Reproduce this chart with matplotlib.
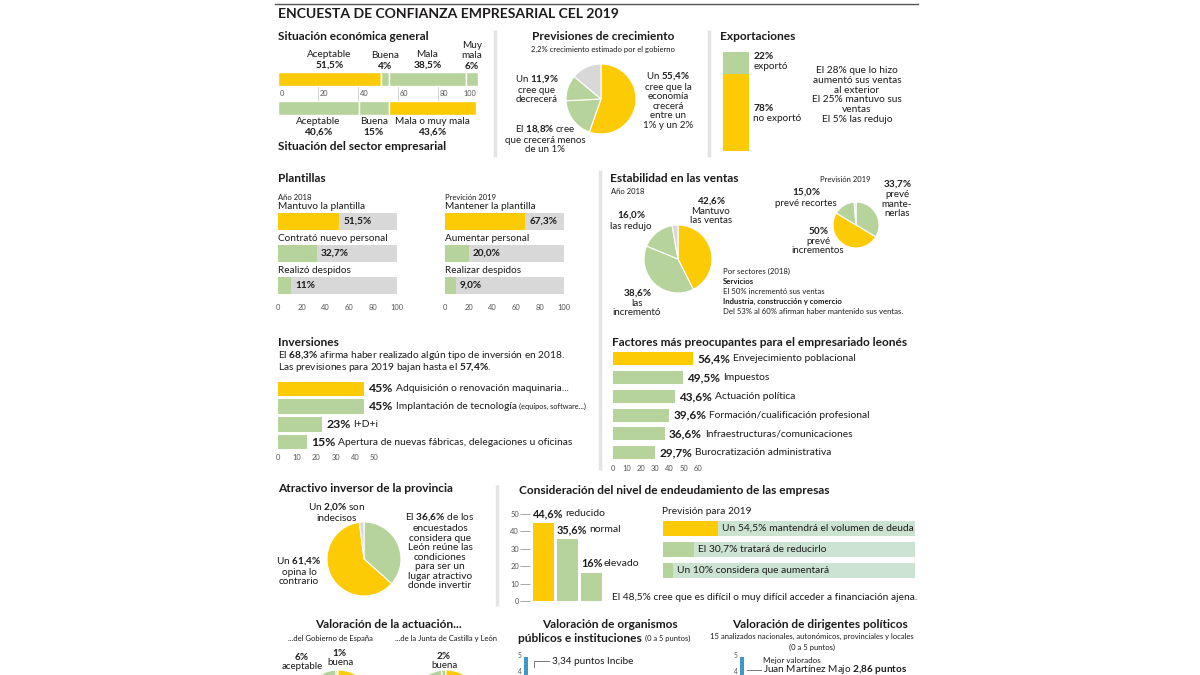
import matplotlib
matplotlib.use('Agg')
import matplotlib.pyplot as plt

plt.rcParams['font.family'] = ['Lato', 'DejaVu Sans']
plt.rcParams['mathtext.fontset'] = 'custom'
plt.rcParams['mathtext.rm'] = 'Lato'
plt.rcParams['mathtext.it'] = 'Lato:italic'
plt.rcParams['mathtext.bf'] = 'Lato:bold'

YEL = '#fccb05'
GRN = '#b7d39c'
GRY = '#d8d8d8'
PALE = '#cde3d2'
BLUE = '#3f98c8'
INK = '#1c1a1b'
SEP = '#e4e4e4'

# ---- data
eco_labels = ['Aceptable', 'Buena', 'Mala', 'Muy\nmala']
eco_vals = [51.5, 4, 38.5, 6]
sec_labels = ['Aceptable', 'Buena', 'Mala o muy mala']
sec_vals = [40.6, 15, 43.6]

# crecerá 1-2%, menos de 1%, decrecerá, resto
crec_vals = [55.4, 18.8, 11.9, 13.9]

exp_labels = ['exportó', 'no exportó']
exp_vals = [22, 78]

pl18_labels = ['Mantuvo la plantilla', 'Contrató nuevo personal', 'Realizó despidos']
pl18_vals = [51.5, 32.7, 11]
pl19_labels = ['Mantener la plantilla', 'Aumentar personal', 'Realizar despidos']
pl19_vals = [67.3, 20.0, 9.0]

est18_labels = ['Mantuvo\nlas ventas', 'las\nincrementó', 'las redujo']
est18_vals = [42.6, 38.6, 16.0, 2.8]
est19_labels = ['prevé\nmante-\nnerlas', 'prevé\nincrementos', 'prevé recortes']
est19_vals = [33.7, 50, 15.0, 1.3]

inv_labels = ['Adquisición o renovación maquinaria...', 'Implantación de tecnología',
              'I+D+i', 'Apertura de nuevas fábricas, delegaciones u oficinas']
inv_vals = [45, 45, 23, 15]

fac_labels = ['Envejecimiento poblacional', 'Impuestos', 'Actuación política',
              'Formación/cualificación profesional', 'Infraestructuras/comunicaciones',
              'Burocratización administrativa']
fac_vals = [56.4, 49.5, 43.6, 39.6, 36.6, 29.7]

# favorable, contrario, indecisos
atr_vals = [36.6, 61.4, 2.0]

deuda_labels = ['reducido', 'normal', 'elevado']
deuda_vals = [44.6, 35.6, 16]
prev_pre = ['Un', 'El', 'Un']
prev_texts = ['mantendrá el volumen de deuda', 'tratará de reducirlo', 'considera que aumentará']
prev_vals = [54.5, 30.7, 10]

# buena, aceptable, resto
gob_vals = [1, 6, 93]
junta_vals = [2, 12, 86]


def fmt(v, d=None):
    s = ('%g' % v) if d is None else ('%.*f' % (d, v))
    return s.replace('.', ',') + '%'


def bf(s):
    s = s.replace(',', '{,}').replace('%', r'\%').replace(' ', r'\ ')
    return r'$\mathbf{' + s + '}$'


W, H = 1200, 675
fig = plt.figure(figsize=(12, 6.75), dpi=100)


def box(x0, y0, x1, y1):
    ax = fig.add_axes([x0 / W, 1 - y1 / H, (x1 - x0) / W, (y1 - y0) / H])
    ax.patch.set_alpha(0)
    return ax


lay = fig.add_axes([0, 0, 1, 1], zorder=10)
lay.set_xlim(0, W)
lay.set_ylim(H, 0)
lay.axis('off')

TS = 8.6   # section titles


def txt(x, y, s, size=7.2, bold=False, ha='left', va='center', color=INK, ls=1.2):
    return lay.text(x, y, s, fontsize=size, fontweight='bold' if bold else 'normal',
                    ha=ha, va=va, color=color, linespacing=ls)


def vline(x, y0, y1):
    lay.plot([x, x], [y0, y1], color=SEP, lw=2.5, solid_capstyle='butt')


def pie(cx, cy, r, vals, cols, ccw=False):
    ax = box(cx - r, cy - r, cx + r, cy + r)
    ax.pie(vals, colors=cols, startangle=90, counterclock=ccw,
           wedgeprops=dict(edgecolor='white', linewidth=0.8))
    ax.set_xlim(-1, 1)
    ax.set_ylim(-1, 1)
    return ax


def xscale(ax, ticks, size=5.4):
    ax.set_xticks(ticks)
    ax.tick_params(axis='x', length=0, labelsize=size, labelcolor='#555555', pad=2)
    ax.set_yticks([])
    for s in ax.spines.values():
        s.set_visible(False)


def chain(prev, s, size, gap=2, bold=False):
    return prev.axes.annotate(s, xy=(1, 0.5), xycoords=prev, xytext=(gap, 0),
                              textcoords='offset points', va='center', ha='left',
                              fontsize=size, color=INK,
                              fontweight='bold' if bold else 'normal')


# ---- frame
lay.plot([275, 918], [4, 4], color='#555555', lw=1)
txt(278, 14, 'ENCUESTA DE CONFIANZA EMPRESARIAL CEL 2019', size=10.1, bold=True)
vline(495, 30, 157)
vline(709, 30, 157)
vline(600, 170, 470)
vline(497, 485, 606)

# ---- Situación económica general / sector empresarial
txt(278, 37, 'Situación económica general', size=TS, bold=True)
ax = box(278, 70, 478, 117)
ax.set_xlim(0, 100)
ax.set_ylim(47, 0)
ax.axis('off')
left = 0
for lab, v, c in zip(eco_labels, eco_vals, [YEL, GRN, GRN, GRN]):
    ax.barh(9, v, left=left, height=14, color=c, edgecolor='white', linewidth=1)
    ax.text(left + v / 2, 1, lab + '\n' + bf(fmt(v)), ha='center', va='bottom',
            fontsize=7.2, color=INK, linespacing=1.05, clip_on=False)
    left += v
left = 0
for lab, v, c in zip(sec_labels, sec_vals, [GRN, GRN, YEL]):
    ax.barh(38, v, left=left, height=14, color=c, edgecolor='white', linewidth=1)
    ax.text(left + v / 2, 47, lab + '\n' + bf(fmt(v)), ha='center', va='top',
            fontsize=7.2, color=INK, linespacing=1.05, clip_on=False)
    left += v
for t in range(0, 101, 20):
    if 0 < t < 100:
        ax.plot([t, t], [17, 30], color='#cccccc', lw=0.6)
    ax.text(t + 1 if t < 100 else t - 1, 24, str(t), ha='left' if t < 100 else 'right',
            va='center', fontsize=5.3, color='#555555')
txt(278, 147, 'Situación del sector empresarial', size=TS, bold=True)

# ---- Previsiones de crecimiento
txt(603, 37, 'Previsiones de crecimiento', size=TS, bold=True, ha='center')
txt(603, 49, '2,2% crecimiento estimado por el gobierno', size=5.5, ha='center')
pie(601, 99, 35, crec_vals, [YEL, GRN, GRN, GRY])
txt(668, 100, 'Un ' + bf(fmt(crec_vals[0])) + '\ncree que la\neconomía\ncrecerá\nentre un\n1% y un 2%',
    ha='center', size=7, ls=1.08)
txt(537, 89, 'Un ' + bf(fmt(crec_vals[2])) + '\ncree que\ndecrecerá', ha='center', size=7, ls=1.08)
txt(545, 139, 'El ' + bf(fmt(crec_vals[1])) + ' cree\nque crecerá menos\nde un 1%', ha='center',
    size=7, ls=1.08)

# ---- Exportaciones
txt(720, 37, 'Exportaciones', size=TS, bold=True)
ax = box(723, 52, 749, 151)
ax.bar(0, exp_vals[1], width=1, color=YEL)
ax.bar(0, exp_vals[0], bottom=exp_vals[1], width=1, color=GRN)
ax.set_xlim(-0.5, 0.5)
ax.set_ylim(0, 100)
ax.axis('off')
ax.annotate(bf(fmt(exp_vals[0])) + '\n' + exp_labels[0], (0.5, exp_vals[1] + exp_vals[0] * 0.6),
            xytext=(3, 0), textcoords='offset points', va='center', fontsize=7.2, color=INK,
            linespacing=1.08)
ax.annotate(bf(fmt(exp_vals[1])) + '\n' + exp_labels[1], (0.5, exp_vals[1] * 0.5),
            xytext=(3, 0), textcoords='offset points', va='center', fontsize=7.2, color=INK,
            linespacing=1.08)
txt(857, 95, 'El 28% que lo hizo\naumentó sus ventas\nal exterior\nEl 25% mantuvo sus\nventas\nEl 5% las redujo',
    ha='center', size=7.3, ls=1.13)

# ---- Plantillas
txt(278, 179, 'Plantillas', size=TS, bold=True)


def plantilla(x0, sub, labels, vals, cols, d):
    txt(x0, 197, sub, size=5.5)
    ax = box(x0, 205.5, x0 + 119, 301.5)
    rows = range(len(vals))
    ax.barh(rows, [100] * len(vals), height=0.53, color=GRY)
    ax.barh(rows, vals, height=0.53, color=cols)
    ax.set_xlim(0, 100)
    ax.set_ylim(2.5, -0.5)
    for i, (lab, v) in enumerate(zip(labels, vals)):
        ax.text(0, i - 0.47, lab, va='center', fontsize=7.2, color=INK)
        ax.text(v + 3.5, i, fmt(v, d), va='center', fontsize=7.2, fontweight='bold', color=INK)
    xscale(ax, range(0, 101, 20))


plantilla(278, 'Año 2018', pl18_labels, pl18_vals, [YEL, GRN, GRN], None)
plantilla(445, 'Previción 2019', pl19_labels, pl19_vals, [YEL, GRN, GRN], 1)

# ---- Estabilidad en las ventas
txt(610, 179, 'Estabilidad en las ventas', size=TS, bold=True)
txt(611, 191, 'Año 2018', size=5.5)
pie(678, 259, 34, est18_vals, [YEL, GRN, GRN, GRY])
for (x, y), lab, v in zip([(711, 210), (637, 302), (631, 220)], est18_labels, est18_vals):
    txt(x, y, bf(fmt(v, 1)) + '\n' + lab, ha='center', size=7, ls=1.05)
txt(845, 179, 'Previsión 2019', size=5.5, ha='center')
pie(856, 225, 23, est19_vals, [GRN, YEL, GRN, GRY])
for (x, y), lab, v, d in zip([(897, 198), (818, 240), (806, 197)], est19_labels, est19_vals,
                             [1, None, 1]):
    txt(x, y, bf(fmt(v, d)) + '\n' + lab, ha='center', size=7, ls=1.05)
txt(723, 271, 'Por sectores (2018)', size=5.6)
txt(723, 281, 'Servicios', size=5.6, bold=True)
txt(723, 291, 'El 50% incrementó sus ventas', size=5.6)
txt(723, 301, 'Industria, construcción y comercio', size=5.6, bold=True)
txt(723, 311, 'Del 53% al 60% afirman haber mantenido sus ventas.', size=5.6)

# ---- Inversiones
txt(278, 342, 'Inversiones', size=TS, bold=True)
txt(278, 355, 'El ' + bf('68,3%') + ' afirma haber realizado algún tipo de inversión en 2018.', size=7.3)
txt(278, 368, 'Las previsiones para 2019 bajan hasta el ' + bf('57,4%') + '.', size=7.3)
ax = box(278, 380, 374, 451)
ax.barh(range(4), inv_vals, height=0.82, color=[YEL, GRN, GRN, GRN])
ax.set_xlim(0, 50)
ax.set_ylim(3.5, -0.5)
xscale(ax, range(0, 51, 10))
for i, (lab, v) in enumerate(zip(inv_labels, inv_vals)):
    t = ax.annotate(fmt(v), (v, i), xytext=(3, 0), textcoords='offset points', va='center',
                    fontsize=8.8, fontweight='bold', color=INK)
    t = chain(t, lab, 7.4)
    if i == 1:
        chain(t, '(equipos, software...)', 5.3)

# ---- Factores
txt(612, 342, 'Factores más preocupantes para el empresariado leonés', size=TS, bold=True)
ax = box(613, 349.6, 698, 461.8)
ax.barh(range(6), fac_vals, height=0.7, color=[YEL] + [GRN] * 5)
ax.set_xlim(0, 60)
ax.set_ylim(5.5, -0.5)
xscale(ax, range(0, 61, 10))
for i, (lab, v) in enumerate(zip(fac_labels, fac_vals)):
    t = ax.annotate(fmt(v), (v, i), xytext=(3, 0), textcoords='offset points', va='center',
                    fontsize=8.5, fontweight='bold', color=INK)
    chain(t, lab, 7.4)

# ---- Atractivo inversor
txt(278, 489, 'Atractivo inversor de la provincia', size=TS, bold=True)
pie(364, 559, 37, atr_vals, [GRN, YEL, GRY])
txt(337, 512, 'Un ' + bf(fmt(atr_vals[2], 1)) + ' son\nindecisos', ha='center', size=7.2, ls=1.08)
txt(299, 571, 'Un ' + bf(fmt(atr_vals[1])) + '\nopina lo\ncontrario', ha='center', size=7.2, ls=1.08)
txt(440, 551, 'El ' + bf(fmt(atr_vals[0])) + ' de los\nencuestados\nconsidera que\nLeón reúne las\n'
    'condiciones\npara ser un\nlugar atractivo\ndonde invertir', ha='center', size=7.3, ls=1.08)

# ---- Endeudamiento
txt(519, 490, 'Consideración del nivel de endeudamiento de las empresas', size=TS, bold=True)
ax = box(530, 514, 605, 601)
ax.bar(range(3), deuda_vals, width=0.875, color=[YEL, GRN, GRN])
ax.set_xlim(-0.5625, 2.5625)
ax.set_ylim(0, 50)
ax.set_xticks([])
ax.set_yticks(range(0, 51, 10))
ax.tick_params(axis='y', length=7, width=0.6, color='#999999', labelsize=5.4,
               labelcolor='#555555', pad=1)
for s in ax.spines.values():
    s.set_visible(False)
for i, (lab, v) in enumerate(zip(deuda_labels, deuda_vals)):
    t = ax.annotate(fmt(v), (i - 0.4375, v), xytext=(0, 3), textcoords='offset points',
                    va='bottom', fontsize=7.8, fontweight='bold', color=INK)
    chain(t, lab, 7.5, gap=1)
txt(612, 598, 'El 48,5% cree que es difícil o muy difícil acceder a financiación ajena.', size=7.3)
txt(662, 511, 'Previsión para 2019', size=7.3)
ax = box(663, 518, 915, 581)
ax.barh(range(3), [252] * 3, height=0.71, color=PALE)
ax.barh(range(3), prev_vals, height=0.71, color=[YEL, GRN, GRN])
ax.set_xlim(0, 252)
ax.set_ylim(2.5, -0.5)
ax.axis('off')
for i, (p, v, s) in enumerate(zip(prev_pre, prev_vals, prev_texts)):
    ax.annotate('%s %s %s' % (p, fmt(v), s), (v, i), xytext=(3, 0), textcoords='offset points',
                va='center', fontsize=7.4, color=INK)

# ---- Valoración de la actuación
txt(388, 624, 'Valoración de la actuación...', size=TS, bold=True, ha='center')
txt(330, 638, '...del Gobierno de España', size=5.5, ha='center')
txt(446, 638, '...de la Junta de Castilla y León', size=5.5, ha='center')
pie(338, 707, 37, gob_vals, [GRN, GRN, YEL], ccw=True)
pie(446, 707, 37, junta_vals, [GRN, GRN, YEL], ccw=True)
txt(302, 661, bf(fmt(gob_vals[1])) + '\naceptable', ha='center', size=7, ls=1.0)
txt(340, 657, bf(fmt(gob_vals[0])) + '\nbuena', ha='center', size=7, ls=1.0)
txt(444, 660, bf(fmt(junta_vals[0])) + '\nbuena', ha='center', size=7, ls=1.0)

# ---- Valoración de organismos
txt(610, 625, 'Valoración de organismos', size=TS, bold=True, ha='center')
txt(642, 638, 'públicos e instituciones', size=TS, bold=True, ha='right')
txt(645, 638, '(0 a 5 puntos)', size=5.4)

# ---- Valoración de dirigentes
txt(820, 624, 'Valoración de dirigentes políticos', size=TS, bold=True, ha='center')
txt(812, 636, '15 analizados nacionales, autonómicos, provinciales y locales', size=5.5, ha='center')
txt(812, 647, '(0 a 5 puntos)', size=5.5, ha='center')

for x0 in [524, 740]:
    ax = box(x0, 657, x0 + 4, 737)
    ax.bar(0, 5, width=1, color=BLUE)
    ax.set_xlim(-0.5, 0.5)
    ax.set_ylim(0, 5)
    ax.axis('off')
    for v in [5, 4]:
        ax.annotate(str(v), (-0.5, v), xytext=(-1.5, 1), textcoords='offset points',
                    ha='right', va='center', fontsize=4.8, color='#555555')

lay.plot([534, 534, 549], [667, 661, 661], color='#777777', lw=0.7)
txt(552, 661, '3,34 puntos Incibe', size=7.2)
txt(763, 660, 'Mejor valorados', size=5.8)
lay.plot([747, 761], [670, 670], color='#777777', lw=0.7)
txt(763, 669.5, 'Juan Martínez Majo ' + bf('2,86 puntos'), size=7.2)

fig.savefig('out.png', dpi=100, facecolor='white')
